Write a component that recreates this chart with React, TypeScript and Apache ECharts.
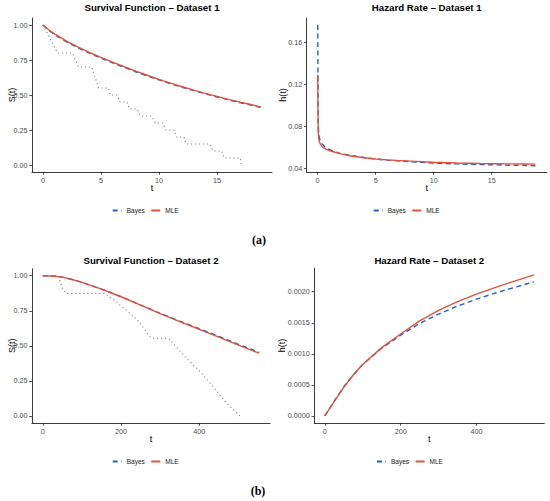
import React, { useEffect, useRef } from "react";
import * as echarts from "echarts";

// ---------- Data ----------
// Dataset 1 – survival function
const surv1T = [0, 0.5, 1, 2, 3, 4, 5, 6, 7, 8, 9, 10, 11, 12, 13, 14, 15, 16, 17, 18, 18.76];
const surv1Mle = [1.0, 0.966, 0.937, 0.886, 0.843, 0.804, 0.769, 0.735, 0.702, 0.671, 0.641, 0.612, 0.585, 0.559, 0.535, 0.512, 0.49, 0.469, 0.449, 0.43, 0.414];
const surv1Bayes = [1.0, 0.962, 0.932, 0.881, 0.838, 0.799, 0.764, 0.73, 0.697, 0.666, 0.636, 0.608, 0.581, 0.555, 0.531, 0.508, 0.486, 0.465, 0.445, 0.427, 0.411];
// Dataset 1 – empirical survival
const km1T = [0, 1.27, 2.55, 3.06, 4.2, 4.8, 5.65, 5.8, 6.4, 6.65, 7.25, 7.45, 8.1, 8.4, 9.35, 9.7, 10.35, 10.58, 11.3, 11.5, 12.15, 12.35, 14.4, 14.65, 15.4, 15.6, 17.0, 17.1];
const km1S = [1, 0.8, 0.8, 0.7, 0.7, 0.55, 0.55, 0.5, 0.5, 0.45, 0.45, 0.4, 0.4, 0.35, 0.35, 0.3, 0.3, 0.25, 0.25, 0.2, 0.2, 0.15, 0.15, 0.1, 0.1, 0.05, 0.05, 0];
// Dataset 1 – hazard rate
const haz1T = [0.01, 0.05, 0.1, 0.2, 0.4, 0.7, 1, 1.5, 2, 3, 4, 5, 6, 8, 10, 12, 14, 16, 18, 18.76];
const haz1Bayes = [0.1765, 0.085, 0.072, 0.067, 0.063, 0.06, 0.058, 0.0558, 0.054, 0.052, 0.0503, 0.0488, 0.0478, 0.0463, 0.045, 0.0442, 0.0436, 0.0431, 0.0427, 0.0425];
const haz1Mle = [0.129, 0.075, 0.068, 0.064, 0.0605, 0.0585, 0.057, 0.0553, 0.0538, 0.0515, 0.05, 0.0489, 0.048, 0.0469, 0.0458, 0.0451, 0.0446, 0.0443, 0.0441, 0.044];

// Dataset 2 – survival function
const surv2T = [0, 25, 50, 75, 100, 150, 200, 250, 300, 350, 400, 450, 500, 553];
const surv2Mle = [1.0, 0.998, 0.99, 0.973, 0.953, 0.905, 0.85, 0.79, 0.73, 0.673, 0.618, 0.562, 0.505, 0.448];
const surv2Bayes = [1.0, 0.998, 0.99, 0.973, 0.953, 0.905, 0.851, 0.791, 0.732, 0.676, 0.622, 0.567, 0.511, 0.455];
// Dataset 2 – empirical survival
const km2T = [0, 39, 43, 52, 60, 158, 167, 188, 197, 219, 244, 274, 282, 321, 329, 363, 406, 432, 466, 504];
const km2S = [1, 1, 0.969, 0.898, 0.874, 0.874, 0.855, 0.815, 0.791, 0.743, 0.677, 0.565, 0.554, 0.554, 0.53, 0.423, 0.304, 0.221, 0.102, 0];
// Dataset 2 – hazard rate
const haz2T = [0, 25, 50, 75, 100, 150, 200, 250, 300, 350, 400, 450, 500, 551];
const haz2Mle = [0, 0.00023, 0.00046, 0.00066, 0.00083, 0.0011, 0.00132, 0.00153, 0.0017, 0.00184, 0.00196, 0.00207, 0.00217, 0.00227];
const haz2Bayes = [0, 0.00024, 0.00047, 0.00066, 0.00083, 0.00109, 0.0013, 0.00149, 0.00164, 0.00177, 0.00188, 0.00198, 0.00207, 0.00216];

// Tick labels
const xTicks1 = [0, 5, 10, 15];
const xTicks2 = [0, 200, 400];
const survTicks = [0, 0.25, 0.5, 0.75, 1];
const haz1Ticks = [0.04, 0.08, 0.12, 0.16];
const haz2Ticks = [0, 0.0005, 0.001, 0.0015, 0.002];

const legendNames = ["Bayes", "MLE"];
const titles = [
  "Survival Function – Dataset 1",
  "Hazard Rate – Dataset 1",
  "Survival Function – Dataset 2",
  "Hazard Rate – Dataset 2",
];
const captions = ["(a)", "(b)"];

// ---------- Styles ----------
const BLUE = "#1f63c6";
const RED = "#e4513b";
const GREY = "#808080";
const FONT = '"Liberation Sans", Arial, sans-serif';

const pairs = (xs: number[], ys: number[]) => xs.map((x, i) => [x, ys[i]]);

export default function App() {
  const ref = useRef<HTMLDivElement>(null);

  useEffect(() => {
    if (!ref.current) return;
    const chart = echarts.init(ref.current, undefined, { renderer: "svg" });

    const axisLine = { show: true, onZero: false, lineStyle: { color: "#262626", width: 0.9 } };
    const mkX = (idx: number, min: number, max: number, ticks: number[]) => ({
      type: "value",
      gridIndex: idx,
      min,
      max,
      name: "t",
      nameLocation: "middle",
      nameGap: 11,
      nameMoveOverlap: false,
      nameTextStyle: { fontSize: 9, color: "#000000", fontFamily: FONT },
      axisLine,
      axisTick: { show: true, customValues: ticks, length: 2.7, lineStyle: { color: "#262626", width: 0.8 } },
      axisLabel: { customValues: ticks, fontSize: 7.2, color: "#4d4d4d", margin: 4.5, fontFamily: FONT },
      splitLine: { show: false },
    });
    const mkY = (idx: number, min: number, max: number, ticks: number[], name: string, gap: number, dec: number) => ({
      type: "value",
      gridIndex: idx,
      min,
      max,
      name,
      nameLocation: "middle",
      nameGap: gap,
      nameMoveOverlap: false,
      nameTextStyle: { fontSize: 9, color: "#000000", fontFamily: FONT },
      axisLine,
      axisTick: { show: true, customValues: ticks, length: 2.7, lineStyle: { color: "#262626", width: 0.8 } },
      axisLabel: {
        customValues: ticks,
        fontSize: 7.2,
        color: "#4d4d4d",
        margin: 4.5,
        fontFamily: FONT,
        formatter: (v: number) => v.toFixed(dec),
      },
      splitLine: { show: false },
    });

    const lineSeries = (name: string, idx: number, data: number[][], kind: "bayes" | "mle" | "km") => {
      const base: any = {
        type: "line",
        name,
        xAxisIndex: idx,
        yAxisIndex: idx,
        data,
        symbol: "none",
        showSymbol: false,
        silent: true,
      };
      if (kind === "km") {
        base.lineStyle = { color: GREY, width: 1.1, type: [1.1, 2.9] };
        base.itemStyle = { color: GREY };
        base.z = 1;
      } else if (kind === "bayes") {
        base.lineStyle = { color: BLUE, width: 1.4, type: [5, 3.5] };
        base.itemStyle = { color: BLUE };
        base.z = 2;
      } else {
        base.lineStyle = { color: RED, width: 1.4 };
        base.itemStyle = { color: RED };
        base.z = 3;
      }
      return base;
    };

    const mkLegend = (left: number, top: number) => ({
      data: legendNames,
      left,
      top,
      orient: "horizontal",
      padding: 0,
      itemWidth: 9,
      itemHeight: 2,
      itemGap: 5.5,
      selectedMode: false,
      itemStyle: { opacity: 0 },
      textStyle: { fontSize: 6.5, color: "#1a1a1a", fontFamily: FONT },
    });

    const titleCenters = [
      [152, 7.5],
      [426.7, 7.5],
      [151, 260],
      [429.3, 260],
    ];

    const option: any = {
      animation: false,
      textStyle: { fontFamily: FONT },
      grid: [
        { left: 32, top: 18, width: 240, height: 154, containLabel: false, outerBoundsMode: "none" },
        { left: 306.7, top: 18.1, width: 240, height: 153.9, containLabel: false, outerBoundsMode: "none" },
        { left: 32, top: 268.7, width: 238, height: 154.3, containLabel: false, outerBoundsMode: "none" },
        { left: 314.3, top: 268.1, width: 230, height: 154.9, containLabel: false, outerBoundsMode: "none" },
      ],
      xAxis: [
        mkX(0, -0.94, 19.74, xTicks1),
        mkX(1, -0.94, 19.74, xTicks1),
        mkX(2, -27.65, 580.65, xTicks2),
        mkX(3, -27.55, 578.55, xTicks2),
      ],
      yAxis: [
        mkY(0, -0.05, 1.05, survTicks, "S(t)", 16, 2),
        mkY(1, 0.0365, 0.183, haz1Ticks, "h(t)", 19, 2),
        mkY(2, -0.05, 1.05, survTicks, "S(t)", 16, 2),
        mkY(3, -0.000113, 0.00238, haz2Ticks, "h(t)", 27.5, 4),
      ],
      legend: [mkLegend(111.7, 207), mkLegend(372.7, 207), mkLegend(111.7, 458), mkLegend(376, 458)],
      series: [
        lineSeries("KM1", 0, pairs(km1T, km1S), "km"),
        lineSeries("Bayes", 0, pairs(surv1T, surv1Bayes), "bayes"),
        lineSeries("MLE", 0, pairs(surv1T, surv1Mle), "mle"),
        lineSeries("Bayes", 1, pairs(haz1T, haz1Bayes), "bayes"),
        lineSeries("MLE", 1, pairs(haz1T, haz1Mle), "mle"),
        lineSeries("KM2", 2, pairs(km2T, km2S), "km"),
        lineSeries("Bayes", 2, pairs(surv2T, surv2Bayes), "bayes"),
        lineSeries("MLE", 2, pairs(surv2T, surv2Mle), "mle"),
        lineSeries("Bayes", 3, pairs(haz2T, haz2Bayes), "bayes"),
        lineSeries("MLE", 3, pairs(haz2T, haz2Mle), "mle"),
      ],
      graphic: [
        ...titles.map((t, i) => ({
          type: "text",
          x: titleCenters[i][0],
          y: titleCenters[i][1],
          silent: true,
          style: {
            text: t,
            font: `bold 9.7px ${FONT}`,
            fill: "#000",
            align: "center",
            verticalAlign: "middle",
          },
        })),
        {
          type: "text",
          x: 259,
          y: 240,
          silent: true,
          style: { text: captions[0], font: 'bold 12px "Liberation Serif", serif', fill: "#000", align: "center", verticalAlign: "middle" },
        },
        {
          type: "text",
          x: 258,
          y: 490.5,
          silent: true,
          style: { text: captions[1], font: 'bold 12px "Liberation Serif", serif', fill: "#000", align: "center", verticalAlign: "middle" },
        },
      ],
    };

    chart.setOption(option);
    return () => chart.dispose();
  }, []);

  return (
    <div
      ref={ref}
      style={{ position: "absolute", left: 0, top: 0, width: 550, height: 501, background: "#fff" }}
    />
  );
}
